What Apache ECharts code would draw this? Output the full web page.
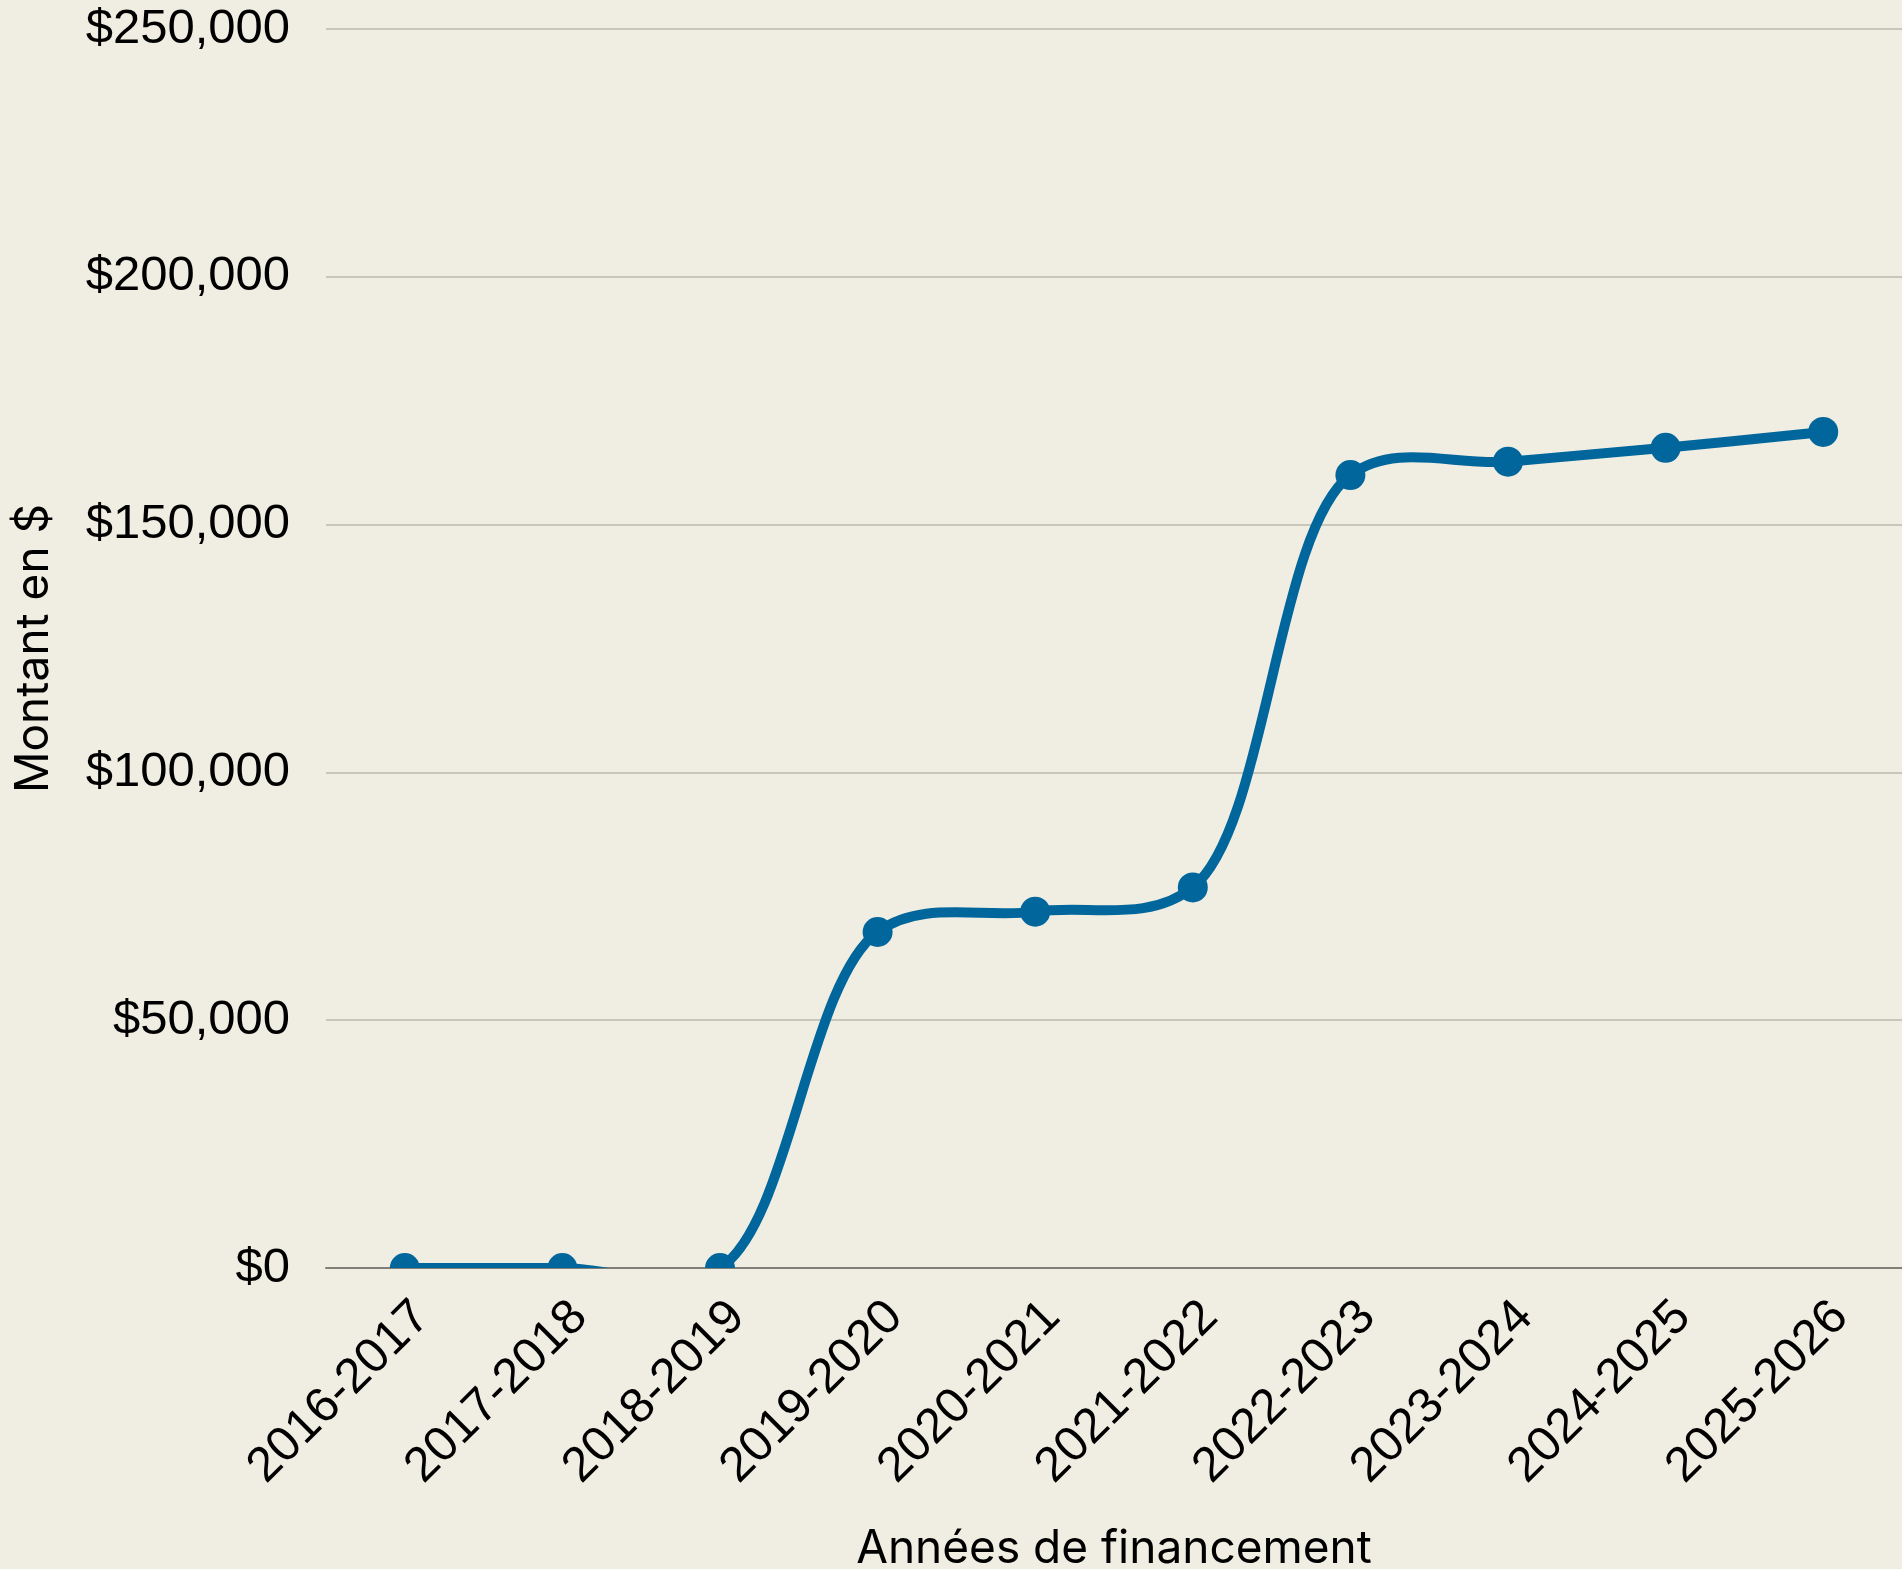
<!DOCTYPE html>
<html>
<head>
<meta charset="utf-8">
<title>Montant par année de financement</title>
<script src="https://cdn.jsdelivr.net/npm/echarts@6/dist/echarts.min.js"></script>
<style>
    html, body { margin: 0; padding: 0; background: #F0EEE2; }
    #main { width: 1902px; height: 1569px; }
</style>
</head>
<body>
<div id="main"></div>
<script>
    // années de financement
    var annees = ['2016-2017', '2017-2018', '2018-2019', '2019-2020', '2020-2021',
        '2021-2022', '2022-2023', '2023-2024', '2024-2025', '2025-2026'];

    // montant en $
    var montants = [0, 0, 0, 67800, 71900, 76800, 160000, 162700, 165500, 168700];

    // ticks de l'axe Y
    var yMin = 0;
    var yMax = 250000;
    var yPas = 50000;

    var bleu = '#00669C';

    var myChart = echarts.init(document.getElementById('main'));

    // format $250,000
    function formatDollar(v) {
        return '$' + v.toString().replace(/\B(?=(\d{3})+(?!\d))/g, ',');
    }

    // courbe catmull-rom centripète (alpha 0.5) à partir des points en pixels
    function cheminLisse(pts) {
        var d = 'M' + pts[0][0] + ',' + pts[0][1];
        function dist(a, b) {
            if (!a || !b) return 0;
            var dx = a[0] - b[0], dy = a[1] - b[1];
            return Math.sqrt(dx * dx + dy * dy);
        }
        for (var i = 0; i < pts.length - 1; i++) {
            var p0 = pts[i - 1], p1 = pts[i], p2 = pts[i + 1], p3 = pts[i + 2];
            var l01 = dist(p0, p1), l12 = dist(p1, p2), l23 = dist(p2, p3);
            var l01a = Math.sqrt(l01), l12a = Math.sqrt(l12), l23a = Math.sqrt(l23);
            var c1 = [p1[0], p1[1]], c2 = [p2[0], p2[1]];
            if (l01a > 1e-6) {
                var a = 2 * l01 + 3 * l01a * l12a + l12;
                var n = 3 * l01a * (l01a + l12a);
                c1 = [(p1[0] * a - p0[0] * l12 + p2[0] * l01) / n,
                      (p1[1] * a - p0[1] * l12 + p2[1] * l01) / n];
            }
            if (l23a > 1e-6) {
                var b = 2 * l23 + 3 * l23a * l12a + l12;
                var m = 3 * l23a * (l23a + l12a);
                c2 = [(p2[0] * b + p1[0] * l23 - p3[0] * l12) / m,
                      (p2[1] * b + p1[1] * l23 - p3[1] * l12) / m];
            }
            d += ' C' + c1[0] + ',' + c1[1] + ' ' + c2[0] + ',' + c2[1] + ' ' + p2[0] + ',' + p2[1];
        }
        return d;
    }

    var option = {
        backgroundColor: '#F0EEE2',
        animation: false,
        grid: {
            left: 326,
            right: 0,
            top: 29,
            bottom: 301,
            outerBoundsMode: 'none'
        },
        xAxis: {
            type: 'category',
            data: annees,
            boundaryGap: true,
            name: 'Années de financement',
            nameLocation: 'middle',
            nameGap: 258,
            nameTextStyle: {
                fontFamily: 'Inter',
                fontSize: 46,
                color: '#000'
            },
            axisLine: {
                lineStyle: { color: '#808078', width: 2 }
            },
            axisTick: { show: false },
            axisLabel: {
                rotate: 45,
                interval: 0,
                margin: 24,
                align: 'right',
                verticalAlign: 'top',
                fontFamily: 'Liberation Sans',
                fontSize: 49,
                color: '#000'
            }
        },
        yAxis: {
            type: 'value',
            min: yMin,
            max: yMax,
            interval: yPas,
            name: 'Montant en $',
            nameLocation: 'middle',
            nameRotate: 90,
            nameGap: 269,
            nameTextStyle: {
                fontFamily: 'Inter',
                fontSize: 46,
                color: '#000'
            },
            axisLine: { show: false },
            axisTick: { show: false },
            axisLabel: {
                margin: 36,
                fontFamily: 'Liberation Sans',
                fontSize: 49,
                color: '#000',
                formatter: formatDollar
            },
            splitLine: {
                lineStyle: { color: '#BDBAAD', width: 1.5 }
            }
        },
        series: [
            {
                // la ligne lissée, coupée au bord du graphique
                type: 'custom',
                clip: true,
                data: montants.map(function (v, i) { return [i, v]; }),
                renderItem: function (params, api) {
                    if (params.dataIndex !== 0) return null;
                    var pts = montants.map(function (v, i) {
                        return api.coord([i, v]);
                    });
                    return {
                        type: 'path',
                        shape: { pathData: cheminLisse(pts) },
                        style: {
                            fill: 'none',
                            stroke: bleu,
                            lineWidth: 10,
                            lineJoin: 'round'
                        }
                    };
                },
                z: 2
            },
            {
                // les points
                type: 'scatter',
                itemStyle: { color: bleu, opacity: 1 },
                symbol: 'circle',
                symbolSize: 30,
                // les points à 0 sont coupés par l'axe : demi-cercle
                data: montants.map(function (v) {
                    if (v === 0) {
                        return {
                            value: v,
                            symbol: 'path://M0,10 A10,10 0 0 1 20,10 Z',
                            symbolSize: [30, 15],
                            symbolOffset: [0, -7.5]
                        };
                    }
                    return v;
                }),
                z: 3
            }
        ]
    };

    myChart.setOption(option);

    window.addEventListener('resize', function () {
        myChart.resize();
    });
</script>
</body>
</html>
